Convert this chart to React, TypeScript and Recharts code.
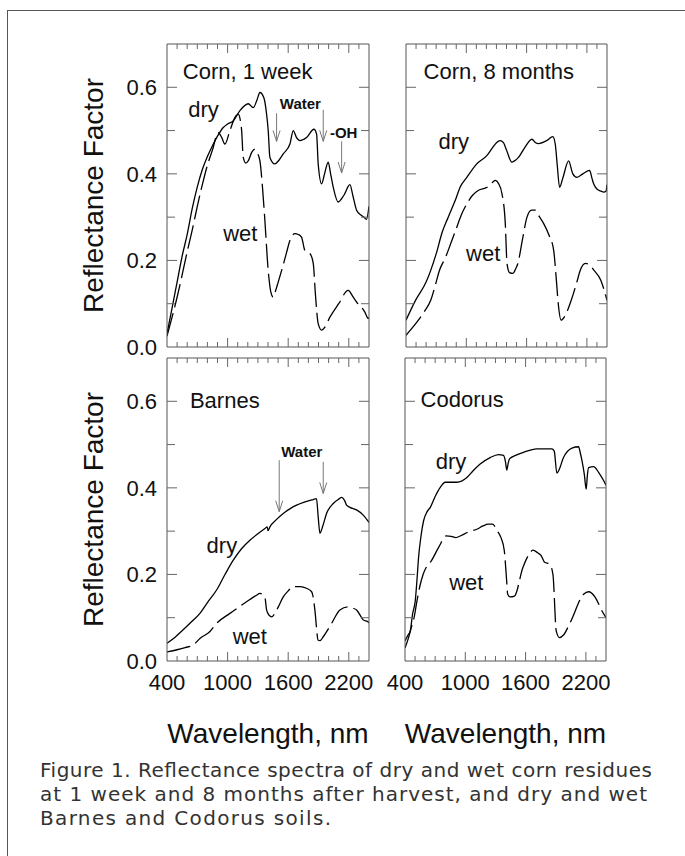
import React from 'react';
import { LineChart, Line, XAxis, YAxis, ReferenceDot, ReferenceLine, Label } from 'recharts';

const FONT = '"Liberation Sans", Arial, Helvetica, sans-serif';
const CAPTION_FONT = '"DejaVu Sans", "Liberation Sans", Arial, sans-serif';
const FRAME = '#555';
const TICK = '#666';
const ARROW = '#777';

// ---- axis ticks and labels ----
const xTicks = [400, 500, 600, 700, 800, 900, 1000, 1100, 1200, 1300, 1400, 1500, 1600, 1700, 1800, 1900, 2000, 2100, 2200, 2300, 2400];
const xMajorTicks = [1000, 1600, 2200];
const xTickLabels = ['400', '1000', '1600', '2200'];
const yTicks = [0, 0.1, 0.2, 0.3, 0.4, 0.5, 0.6, 0.7];
const yTickLabels = ['0.0', '0.2', '0.4', '0.6'];

// ---- Corn, 1 week ----
const corn1wDryNm = [400, 450, 500, 550, 600, 650, 700, 750, 800, 850, 900, 957, 1000, 1055, 1122, 1204, 1254, 1290, 1320, 1359, 1385, 1402, 1419, 1468, 1510, 1551, 1617, 1650, 1680, 1716, 1782, 1855, 1881, 1897, 1931, 1960, 1996, 2020, 2046, 2095, 2150, 2211, 2240, 2277, 2320, 2350, 2375, 2400];
const corn1wDryR = [0.031, 0.09, 0.15, 0.21, 0.26, 0.32, 0.37, 0.41, 0.44, 0.465, 0.487, 0.507, 0.515, 0.522, 0.546, 0.562, 0.553, 0.57, 0.588, 0.576, 0.54, 0.5, 0.438, 0.423, 0.432, 0.446, 0.469, 0.5, 0.485, 0.477, 0.484, 0.503, 0.492, 0.423, 0.377, 0.4, 0.427, 0.4, 0.369, 0.335, 0.35, 0.375, 0.35, 0.316, 0.305, 0.3, 0.295, 0.325];
const corn1wWetNm = [400, 500, 600, 659, 700, 750, 800, 850, 907, 940, 973, 1023, 1072, 1105, 1125, 1139, 1155, 1180, 1204, 1240, 1270, 1290, 1320, 1345, 1369, 1402, 1430, 1451, 1475, 1501, 1535, 1580, 1617, 1666, 1700, 1732, 1765, 1815, 1848, 1870, 1897, 1931, 1960, 2013, 2100, 2194, 2244, 2290, 2327, 2360, 2393, 2400];
const corn1wWetR = [0.025, 0.115, 0.22, 0.28, 0.325, 0.375, 0.42, 0.455, 0.495, 0.485, 0.469, 0.5, 0.53, 0.538, 0.525, 0.5, 0.438, 0.425, 0.43, 0.45, 0.457, 0.45, 0.43, 0.37, 0.293, 0.177, 0.125, 0.115, 0.13, 0.15, 0.177, 0.215, 0.246, 0.262, 0.26, 0.254, 0.223, 0.216, 0.193, 0.12, 0.054, 0.039, 0.045, 0.069, 0.1, 0.131, 0.115, 0.1, 0.092, 0.08, 0.066, 0.068];

// ---- Corn, 8 months ----
const corn8mDryNm = [400, 500, 600, 646, 700, 760, 820, 900, 938, 1000, 1104, 1204, 1260, 1300, 1336, 1370, 1400, 1453, 1480, 1519, 1580, 1653, 1690, 1719, 1802, 1861, 1885, 1905, 1928, 1960, 2018, 2060, 2101, 2160, 2227, 2250, 2267, 2300, 2340, 2367, 2390, 2400];
const corn8mDryR = [0.062, 0.11, 0.15, 0.177, 0.215, 0.265, 0.3, 0.345, 0.369, 0.39, 0.423, 0.442, 0.46, 0.472, 0.477, 0.472, 0.455, 0.427, 0.43, 0.438, 0.46, 0.48, 0.472, 0.47, 0.477, 0.486, 0.469, 0.42, 0.369, 0.39, 0.43, 0.4, 0.392, 0.4, 0.408, 0.39, 0.377, 0.365, 0.36, 0.358, 0.36, 0.375];
const corn8mWetNm = [400, 500, 580, 646, 700, 730, 795, 845, 895, 950, 1006, 1060, 1122, 1206, 1250, 1288, 1320, 1355, 1388, 1405, 1430, 1464, 1490, 1513, 1560, 1604, 1650, 1687, 1730, 1770, 1820, 1869, 1896, 1915, 1944, 1977, 2044, 2100, 2135, 2185, 2226, 2267, 2337, 2400];
const corn8mWetR = [0.027, 0.055, 0.081, 0.108, 0.15, 0.175, 0.208, 0.239, 0.27, 0.305, 0.331, 0.35, 0.362, 0.369, 0.378, 0.385, 0.378, 0.354, 0.285, 0.193, 0.172, 0.17, 0.18, 0.193, 0.25, 0.3, 0.316, 0.316, 0.3, 0.285, 0.26, 0.224, 0.155, 0.1, 0.062, 0.07, 0.108, 0.15, 0.178, 0.193, 0.19, 0.178, 0.155, 0.108];

// ---- Barnes soil ----
const barnesDryNm = [400, 480, 560, 640, 726, 800, 891, 970, 1056, 1140, 1221, 1300, 1369, 1392, 1400, 1419, 1480, 1551, 1620, 1683, 1760, 1848, 1880, 1897, 1914, 1940, 1980, 2046, 2100, 2129, 2160, 2178, 2211, 2277, 2343, 2400];
const barnesDryR = [0.041, 0.055, 0.072, 0.09, 0.11, 0.135, 0.164, 0.198, 0.233, 0.26, 0.279, 0.294, 0.306, 0.31, 0.301, 0.31, 0.326, 0.341, 0.352, 0.36, 0.367, 0.373, 0.375, 0.333, 0.295, 0.31, 0.341, 0.364, 0.374, 0.378, 0.37, 0.36, 0.355, 0.349, 0.337, 0.32];
const barnesWetNm = [400, 500, 580, 659, 726, 825, 891, 1023, 1139, 1220, 1287, 1320, 1350, 1369, 1386, 1410, 1436, 1468, 1502, 1551, 1600, 1650, 1720, 1782, 1832, 1848, 1864, 1897, 1915, 1947, 2030, 2112, 2194, 2240, 2277, 2343, 2393, 2400];
const barnesWetR = [0.021, 0.026, 0.031, 0.037, 0.052, 0.068, 0.087, 0.11, 0.129, 0.142, 0.152, 0.156, 0.153, 0.148, 0.118, 0.106, 0.102, 0.11, 0.125, 0.148, 0.162, 0.172, 0.172, 0.168, 0.16, 0.147, 0.118, 0.048, 0.047, 0.056, 0.087, 0.118, 0.125, 0.122, 0.118, 0.095, 0.09, 0.088];

// ---- Codorus soil ----
const codorusDryNm = [400, 430, 452, 475, 502, 520, 535, 560, 585, 620, 652, 700, 751, 800, 860, 917, 1016, 1080, 1148, 1247, 1330, 1380, 1400, 1413, 1425, 1440, 1500, 1579, 1712, 1800, 1861, 1885, 1911, 1930, 1977, 2061, 2127, 2145, 2161, 2185, 2203, 2215, 2227, 2277, 2326, 2376, 2400];
const codorusDryR = [0.046, 0.06, 0.069, 0.108, 0.139, 0.19, 0.239, 0.29, 0.324, 0.345, 0.355, 0.38, 0.401, 0.413, 0.413, 0.413, 0.424, 0.44, 0.455, 0.47, 0.477, 0.475, 0.46, 0.441, 0.455, 0.467, 0.475, 0.482, 0.49, 0.49, 0.49, 0.485, 0.434, 0.44, 0.47, 0.492, 0.495, 0.48, 0.463, 0.43, 0.397, 0.43, 0.447, 0.449, 0.436, 0.417, 0.406];
const codorusWetNm = [400, 430, 460, 490, 520, 550, 580, 620, 660, 740, 810, 860, 905, 960, 1022, 1060, 1120, 1176, 1230, 1271, 1320, 1355, 1388, 1410, 1422, 1445, 1489, 1573, 1630, 1673, 1720, 1756, 1789, 1839, 1872, 1905, 1938, 1977, 2044, 2177, 2227, 2293, 2359, 2400];
const codorusWetR = [0.03, 0.05, 0.075, 0.1, 0.14, 0.175, 0.2, 0.22, 0.231, 0.265, 0.289, 0.288, 0.285, 0.29, 0.297, 0.3, 0.305, 0.312, 0.316, 0.316, 0.3, 0.285, 0.255, 0.19, 0.154, 0.148, 0.15, 0.216, 0.245, 0.256, 0.25, 0.243, 0.228, 0.224, 0.2, 0.069, 0.054, 0.06, 0.089, 0.154, 0.16, 0.147, 0.116, 0.1];

const zip = (nm: number[], r: number[]) => nm.map((x, i) => ({ nm: x, r: r[i] }));

type Side = 'bottom' | 'top' | 'left' | 'right';

const makeTick = (side: Side, withLabels: boolean) => (props: any) => {
  const { x, y, payload } = props;
  const v = Number(payload && payload.value);
  if (side === 'bottom' || side === 'top') {
    const edge = v === 400 || v === 2400;
    const len = xMajorTicks.includes(v) ? 9 : 5;
    const dir = side === 'bottom' ? -1 : 1;
    const label = withLabels && side === 'bottom' && xTickLabels.includes(String(v));
    return (
      <g>
        {!edge && <line x1={x} y1={y} x2={x} y2={y + dir * len} stroke={TICK} strokeWidth={1} />}
        {label && (
          <text x={x} y={y + 29} textAnchor="middle" fontSize={22} fontFamily={FONT} fill="#111">
            {String(v)}
          </text>
        )}
      </g>
    );
  }
  const k = Math.round(v * 10);
  const edge = k === 0 || k === 7;
  const len = k % 2 === 0 ? 10 : 8;
  const dir = side === 'left' ? 1 : -1;
  const txt = v.toFixed(1);
  const label = withLabels && side === 'left' && yTickLabels.includes(txt);
  return (
    <g>
      {!edge && <line x1={x} y1={y} x2={x + dir * len} y2={y} stroke={TICK} strokeWidth={1} />}
      {label && (
        <text x={x - 10} y={y + 8} textAnchor="end" fontSize={22} fontFamily={FONT} fill="#111">
          {txt}
        </text>
      )}
    </g>
  );
};

const arrowShape = (p: any) => {
  const { x1, y1, x2, y2 } = p;
  return (
    <g>
      <line x1={x1} y1={y1} x2={x2} y2={y2} stroke={ARROW} strokeWidth={1} />
      <path d={`M${x2 - 3.5},${y2 - 11} L${x2},${y2} L${x2 + 3.5},${y2 - 11}`} fill="none" stroke={ARROW} strokeWidth={1} />
    </g>
  );
};

type Note = { x: number; y: number; text: string; size: number; bold?: boolean; anchor?: 'start' | 'middle' | 'end' };
type Arrow = { x: number; from: number; to: number };

type PanelProps = {
  box: { x: number; y: number; w: number; h: number };
  dry: { nm: number; r: number }[];
  wet: { nm: number; r: number }[];
  yLabels: boolean;
  xLabels: boolean;
  notes: Note[];
  arrows: Arrow[];
};

function Panel({ box, dry, wet, yLabels, xLabels, notes, arrows }: PanelProps) {
  const padL = yLabels ? 110 : 30;
  const padR = 10;
  const padT = 10;
  const padB = xLabels ? 100 : 24;
  const W = box.w + padL + padR;
  const H = box.h + padT + padB;
  return (
    <div style={{ position: 'absolute', left: box.x - padL, top: box.y - padT, width: W, height: H }}>
      <LineChart width={W} height={H} margin={{ top: 0, right: 0, bottom: 0, left: 0 }}>
        <XAxis
          xAxisId="b"
          orientation="bottom"
          type="number"
          dataKey="nm"
          domain={[400, 2400]}
          ticks={xTicks}
          interval={0}
          height={padB}
          tickSize={0}
          tickMargin={0}
          tick={makeTick('bottom', xLabels)}
          axisLine={{ stroke: FRAME, strokeWidth: 1 }}
          tickLine={false}
          allowDataOverflow
        >
          {xLabels && (
            <Label
              content={() => (
                <text x={padL + box.w / 2} y={padT + box.h + 82} textAnchor="middle" fontSize={28} fontFamily={FONT} fill="#111">
                  Wavelength, nm
                </text>
              )}
            />
          )}
        </XAxis>
        <XAxis
          xAxisId="t"
          orientation="top"
          type="number"
          dataKey="nm"
          domain={[400, 2400]}
          ticks={xTicks}
          interval={0}
          height={padT}
          tickSize={0}
          tickMargin={0}
          tick={makeTick('top', false)}
          axisLine={{ stroke: FRAME, strokeWidth: 1 }}
          tickLine={false}
          allowDataOverflow
        />
        <YAxis
          yAxisId="l"
          orientation="left"
          type="number"
          domain={[0, 0.7]}
          ticks={yTicks}
          interval={0}
          width={padL}
          tickSize={0}
          tickMargin={0}
          tick={makeTick('left', yLabels)}
          axisLine={{ stroke: FRAME, strokeWidth: 1 }}
          tickLine={false}
          allowDataOverflow
        >
          {yLabels && (
            <Label
              content={() => {
                const cx = padL - 64;
                const cy = padT + box.h / 2;
                return (
                  <text x={cx} y={cy} transform={`rotate(-90 ${cx} ${cy})`} textAnchor="middle" fontSize={28} fontFamily={FONT} fill="#111">
                    Reflectance Factor
                  </text>
                );
              }}
            />
          )}
        </YAxis>
        <YAxis
          yAxisId="r"
          orientation="right"
          type="number"
          domain={[0, 0.7]}
          ticks={yTicks}
          interval={0}
          width={padR}
          tickSize={0}
          tickMargin={0}
          tick={makeTick('right', false)}
          axisLine={{ stroke: FRAME, strokeWidth: 1 }}
          tickLine={false}
          allowDataOverflow
        />
        <Line
          xAxisId="b"
          yAxisId="l"
          data={dry}
          dataKey="r"
          type="monotone"
          stroke="#000"
          strokeWidth={1.3}
          dot={false}
          activeDot={false}
          isAnimationActive={false}
        />
        <Line
          xAxisId="b"
          yAxisId="l"
          data={wet}
          dataKey="r"
          type="monotone"
          stroke="#000"
          strokeWidth={1.3}
          strokeDasharray="24 6"
          dot={false}
          activeDot={false}
          isAnimationActive={false}
        />
        {arrows.map((a, i) => (
          <ReferenceLine
            key={'a' + i}
            xAxisId="b"
            yAxisId="l"
            segment={[
              { x: a.x, y: a.from },
              { x: a.x, y: a.to },
            ]}
            shape={arrowShape}
          />
        ))}
        {notes.map((n, i) => (
          <ReferenceDot
            key={'n' + i}
            xAxisId="b"
            yAxisId="l"
            x={n.x}
            y={n.y}
            r={0}
            shape={(p: any) => (
              <text
                x={p.cx}
                y={p.cy}
                textAnchor={n.anchor || 'start'}
                fontSize={n.size}
                fontWeight={n.bold ? 'bold' : 'normal'}
                fontFamily={FONT}
                fill="#111"
              >
                {n.text}
              </text>
            )}
          />
        ))}
      </LineChart>
    </div>
  );
}

export default function App() {
  return (
    <div
      style={{
        position: 'absolute',
        left: 0,
        top: 0,
        width: 685,
        height: 856,
        overflow: 'hidden',
        background: '#fff',
        fontFamily: FONT,
      }}
    >
      <div
        style={{
          position: 'absolute',
          left: 7,
          top: 10,
          width: 700,
          height: 900,
          borderLeft: '1.5px solid #555',
          borderTop: '1.5px solid #555',
        }}
      />
      <Panel
        box={{ x: 167, y: 44, w: 202, h: 303 }}
        dry={zip(corn1wDryNm, corn1wDryR)}
        wet={zip(corn1wWetNm, corn1wWetR)}
        yLabels
        xLabels={false}
        notes={[
          { x: 557, y: 0.62, text: 'Corn, 1 week', size: 22 },
          { x: 610, y: 0.531, text: 'dry', size: 22 },
          { x: 956, y: 0.245, text: 'wet', size: 22 },
          { x: 1721, y: 0.549, text: 'Water', size: 15, bold: true, anchor: 'middle' },
          { x: 2013, y: 0.483, text: '-OH', size: 15, bold: true },
        ]}
        arrows={[
          { x: 1485, from: 0.54, to: 0.475 },
          { x: 1947, from: 0.548, to: 0.475 },
          { x: 2129, from: 0.475, to: 0.402 },
        ]}
      />
      <Panel
        box={{ x: 406, y: 44, w: 201, h: 303 }}
        dry={zip(corn8mDryNm, corn8mDryR)}
        wet={zip(corn8mWetNm, corn8mWetR)}
        yLabels={false}
        xLabels={false}
        notes={[
          { x: 575, y: 0.62, text: 'Corn, 8 months', size: 22 },
          { x: 724, y: 0.457, text: 'dry', size: 22 },
          { x: 998, y: 0.199, text: 'wet', size: 22 },
        ]}
        arrows={[]}
      />
      <Panel
        box={{ x: 167, y: 358, w: 202, h: 303 }}
        dry={zip(barnesDryNm, barnesDryR)}
        wet={zip(barnesWetNm, barnesWetR)}
        yLabels
        xLabels
        notes={[
          { x: 627, y: 0.584, text: 'Barnes', size: 22 },
          { x: 792, y: 0.249, text: 'dry', size: 22 },
          { x: 1050, y: 0.039, text: 'wet', size: 22 },
          { x: 1735, y: 0.472, text: 'Water', size: 15, bold: true, anchor: 'middle' },
        ]}
        arrows={[
          { x: 1511, from: 0.464, to: 0.345 },
          { x: 1947, from: 0.46, to: 0.387 },
        ]}
      />
      <Panel
        box={{ x: 405, y: 358, w: 201, h: 303 }}
        dry={zip(codorusDryNm, codorusDryR)}
        wet={zip(codorusWetNm, codorusWetR)}
        yLabels={false}
        xLabels
        notes={[
          { x: 555, y: 0.587, text: 'Codorus', size: 22 },
          { x: 706, y: 0.444, text: 'dry', size: 22 },
          { x: 840, y: 0.164, text: 'wet', size: 22 },
        ]}
        arrows={[]}
      />
      <svg style={{ position: 'absolute', left: 0, top: 740 }} width={685} height={116}>
        <text x={40} y={37} fontSize={20} fontFamily={CAPTION_FONT} fill="#333" textLength={612} lengthAdjust="spacing">
          Figure 1. Reflectance spectra of dry and wet corn residues
        </text>
        <text x={40} y={61} fontSize={20} fontFamily={CAPTION_FONT} fill="#333" textLength={607} lengthAdjust="spacing">
          at 1 week and 8 months after harvest, and dry and wet
        </text>
        <text x={40} y={85} fontSize={20} fontFamily={CAPTION_FONT} fill="#333" textLength={291} lengthAdjust="spacing">
          Barnes and Codorus soils.
        </text>
      </svg>
    </div>
  );
}
